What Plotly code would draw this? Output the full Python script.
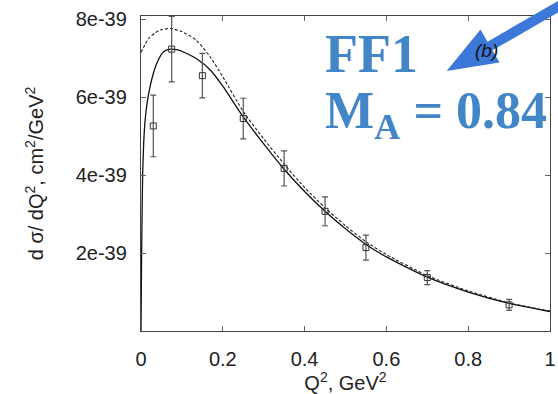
import plotly.graph_objects as go

# Measured differential cross section, d sigma / dQ^2 (cm^2/GeV^2)
q2_data = [0.03, 0.075, 0.15, 0.25, 0.35, 0.45, 0.55, 0.70, 0.90]
xs_data = [5.26e-39, 7.23e-39, 6.55e-39, 5.45e-39, 4.17e-39, 3.07e-39, 2.14e-39, 1.37e-39, 0.67e-39]
xs_err = [0.79e-39, 0.84e-39, 0.57e-39, 0.52e-39, 0.45e-39, 0.37e-39, 0.32e-39, 0.18e-39, 0.14e-39]

# Model curve (solid)
q2_solid = [0.0, 0.0015, 0.004, 0.0065, 0.01, 0.015, 0.022, 0.03, 0.04, 0.055, 0.072,
            0.09, 0.105, 0.135, 0.17, 0.2, 0.25, 0.3, 0.35, 0.4, 0.45, 0.5, 0.55,
            0.6, 0.7, 0.8, 0.9, 1.0]
xs_solid = [0.0, 2.0e-39, 4.0e-39, 4.8e-39, 5.4e-39, 5.85e-39, 6.26e-39, 6.6e-39, 6.9e-39,
            7.16e-39, 7.23e-39, 7.21e-39, 7.15e-39, 6.99e-39, 6.69e-39, 6.28e-39, 5.49e-39,
            4.8e-39, 4.15e-39, 3.58e-39, 3.07e-39, 2.62e-39, 2.22e-39, 1.9e-39, 1.38e-39,
            1.0e-39, 0.71e-39, 0.5e-39]

# Model curve (dashed)
q2_dash = [0.0, 0.01, 0.02, 0.035, 0.05, 0.072, 0.1, 0.135, 0.17, 0.2, 0.25, 0.3, 0.35,
           0.4, 0.45, 0.5, 0.55, 0.6, 0.7, 0.8, 0.9, 1.0]
xs_dash = [7.15e-39, 7.35e-39, 7.52e-39, 7.65e-39, 7.73e-39, 7.76e-39, 7.68e-39, 7.46e-39,
           7.02e-39, 6.52e-39, 5.63e-39, 4.93e-39, 4.28e-39, 3.68e-39, 3.16e-39, 2.7e-39,
           2.29e-39, 1.96e-39, 1.42e-39, 1.03e-39, 0.72e-39, 0.51e-39]

x_ticks = [0, 0.2, 0.4, 0.6, 0.8, 1.0]
x_tick_text = ["0", "0.2", "0.4", "0.6", "0.8", "1"]
y_ticks = [2e-39, 4e-39, 6e-39, 8e-39]
y_tick_text = ["2e-39", "4e-39", "6e-39", "8e-39"]

W, H = 558, 394
ML, MR, MT, MB = 141, 8, 16, 63
PW, PH = W - ML - MR, H - MT - MB


def px(x, y):
    """Pixel position on the page -> paper coordinates."""
    return (x - ML) / PW, (H - MB - y) / PH


fig = go.Figure()

fig.add_trace(go.Scatter(
    x=q2_dash, y=xs_dash, mode="lines",
    line=dict(color="#222222", width=1.1, dash="3px,2px", shape="spline", smoothing=0.6),
    showlegend=False, hoverinfo="skip"))

fig.add_trace(go.Scatter(
    x=q2_solid, y=xs_solid, mode="lines",
    line=dict(color="#111111", width=1.3, shape="spline", smoothing=0.6),
    showlegend=False, hoverinfo="skip"))

fig.add_trace(go.Scatter(
    x=q2_data, y=xs_data, mode="markers",
    marker=dict(symbol="square-open", size=6, color="#333333", line=dict(width=1, color="#333333")),
    error_y=dict(type="data", array=xs_err, visible=True, color="#555555", thickness=1.2, width=3),
    showlegend=False))

axis_common = dict(
    showline=True, linecolor="#444444", linewidth=1.3, mirror="ticks",
    ticks="inside", ticklen=5, tickcolor="#666666", tickwidth=1,
    showgrid=False, zeroline=False, automargin=False,
    tickfont=dict(family="Liberation Sans, Arial, sans-serif", size=20, color="#222222"),
)

fig.update_xaxes(
    range=[0, 1], tickvals=x_ticks, ticktext=x_tick_text, ticklabelstandoff=10,
    title=dict(text="Q<sup>2</sup>, GeV<sup>2</sup>", standoff=6,
               font=dict(family="Liberation Sans, Arial, sans-serif", size=20, color="#222222")),
    **axis_common)

fig.update_yaxes(
    range=[0, 8.08e-39], tickvals=y_ticks, ticktext=y_tick_text, ticklabelstandoff=9,
    title=dict(text="d σ/ dQ<sup>2</sup>, cm<sup>2</sup>/GeV<sup>2</sup>", standoff=26,
               font=dict(family="Liberation Sans, Arial, sans-serif", size=20, color="#222222")),
    **axis_common)

blue_text = "#4286c7"
blue_arrow = "#3b78d8"

# Arrow: shaft plus triangular head
tip = (446.7, 71.0)
base = (490.0, 46.0)
ux, uy = 0.866, -0.5          # from head base back toward the tail
nx, ny = 0.5, 0.866            # perpendicular
tail = (base[0] + 160 * ux, base[1] + 160 * uy)
half_shaft, half_head = 5.0, 19.0
pts = [
    (base[0] + half_shaft * nx, base[1] + half_shaft * ny),
    (tail[0] + half_shaft * nx, tail[1] + half_shaft * ny),
    (tail[0] - half_shaft * nx, tail[1] - half_shaft * ny),
    (base[0] - half_shaft * nx, base[1] - half_shaft * ny),
    (base[0] - half_head * nx, base[1] - half_head * ny),
    tip,
    (base[0] + half_head * nx, base[1] + half_head * ny),
]
path = "M " + " L ".join("{:.5f},{:.5f}".format(*px(*p)) for p in pts) + " Z"
fig.add_shape(type="path", path=path, xref="paper", yref="paper",
              fillcolor=blue_arrow, line=dict(width=0), layer="above")

# Panel label, drawn over the arrow shaft
lx, ly = px(500, 38)
fig.add_annotation(x=lx, y=ly, xref="paper", yref="paper", text="<i>(b)</i>", showarrow=False,
                   font=dict(family="Liberation Sans, Arial, sans-serif", size=19, color="#111111"))

# Annotation text
fx, fy = px(323, 54)
fig.add_annotation(x=fx, y=fy, xref="paper", yref="paper", text="<b>FF1</b>", showarrow=False,
                   xanchor="left", yanchor="middle",
                   font=dict(family="Liberation Serif, Times New Roman, serif", size=54, color=blue_text))
mx, my = px(323, 114)
fig.add_annotation(x=mx, y=my, xref="paper", yref="paper",
                   text="<b>M<sub>A</sub> = 0.84</b>", showarrow=False,
                   xanchor="left", yanchor="middle",
                   font=dict(family="Liberation Serif, Times New Roman, serif", size=52, color=blue_text))

fig.update_layout(
    width=W, height=H,
    margin=dict(l=ML, r=MR, t=MT, b=MB),
    paper_bgcolor="white", plot_bgcolor="white",
)

fig.write_html("out.html")
